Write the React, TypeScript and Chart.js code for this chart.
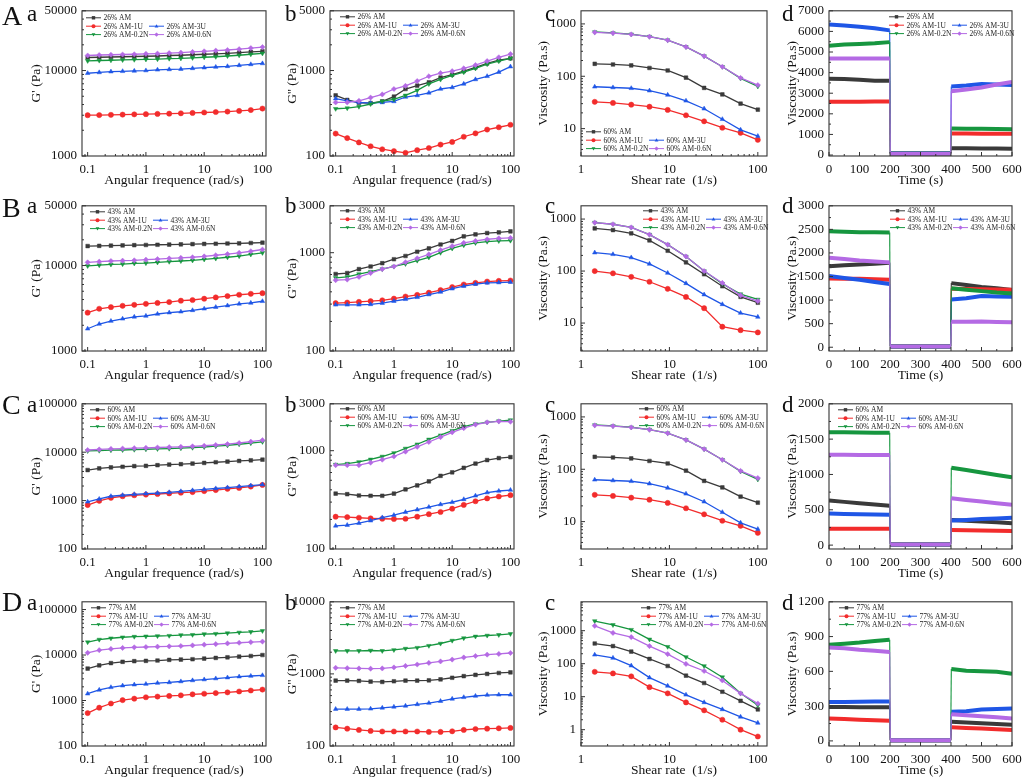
import { Chart, registerables } from 'chart.js';
import { useEffect, useRef } from 'react';

Chart.register(...registerables);

const SERIF = '"Liberation Serif", "DejaVu Serif", serif';

// x values
const freq = [0.1, 0.158, 0.251, 0.398, 0.631, 1, 1.58, 2.51, 3.98, 6.31, 10, 15.8, 25.1, 39.8, 63.1, 100];
const shear = [1.43, 2.3, 3.7, 5.95, 9.56, 15.4, 24.7, 39.7, 63.8, 100];
const time = [0, 50, 100, 150, 199, 201, 250, 300, 350, 399, 401, 450, 500, 550, 600];

const variants = ['AM', 'AM-1U', 'AM-3U', 'AM-0.2N', 'AM-0.6N'];

// tick labels
const freqTicks = [0.1, 1, 10, 100];
const shearTicks = [1, 10, 100];
const timeTicks = [0, 100, 200, 300, 400, 500, 600];
const storageTicksAB = [1000, 10000, 50000];
const storageTicksCD = [100, 1000, 10000, 100000];
const lossTicksA = [100, 1000, 5000];
const lossTicksBC = [100, 1000, 3000];
const lossTicksD = [100, 1000, 10000];
const viscTicksABC = [10, 100, 1000];
const viscTicksD = [1, 10, 100, 1000];
const thixTicksA = [0, 1000, 2000, 3000, 4000, 5000, 6000, 7000];
const thixTicksB = [0, 500, 1000, 1500, 2000, 2500, 3000];
const thixTicksC = [0, 500, 1000, 1500, 2000];
const thixTicksD = [0, 300, 600, 900, 1200];

// G' (Pa) — order: AM, AM-1U, AM-3U, AM-0.2N, AM-0.6N
const storageA = [
  [14200, 14300, 14400, 14500, 14600, 14700, 14800, 15000, 15100, 15300, 15500, 15700, 15900, 16200, 16500, 16800],
  [3000, 3010, 3030, 3050, 3070, 3090, 3110, 3130, 3160, 3190, 3230, 3270, 3310, 3370, 3450, 3590],
  [9300, 9500, 9700, 9800, 9900, 10000, 10200, 10300, 10400, 10600, 10800, 11000, 11200, 11500, 11800, 12100],
  [13000, 13100, 13200, 13300, 13400, 13500, 13600, 13800, 13900, 14100, 14300, 14500, 14800, 15100, 15500, 15900],
  [15000, 15200, 15300, 15400, 15500, 15700, 15800, 16000, 16200, 16500, 16800, 17100, 17400, 17800, 18300, 18800],
];
const storageB = [
  [16900, 17000, 17100, 17200, 17300, 17400, 17500, 17600, 17700, 17800, 17900, 18000, 18100, 18200, 18350, 18500],
  [2810, 3120, 3260, 3380, 3470, 3560, 3650, 3740, 3880, 3950, 4090, 4240, 4390, 4550, 4670, 4750],
  [1820, 2070, 2240, 2380, 2510, 2570, 2710, 2810, 2880, 2990, 3120, 3260, 3400, 3560, 3650, 3820],
  [9900, 10100, 10300, 10400, 10600, 10700, 10900, 11100, 11300, 11500, 11800, 12100, 12500, 12900, 13500, 14100],
  [10900, 11100, 11300, 11400, 11500, 11700, 11900, 12100, 12300, 12500, 12800, 13200, 13600, 14100, 14700, 15400],
];
const storageC = [
  [4280, 4630, 4850, 5000, 5150, 5230, 5390, 5560, 5650, 5830, 6010, 6200, 6400, 6600, 6800, 7010],
  [809, 990, 1140, 1230, 1290, 1330, 1370, 1410, 1460, 1500, 1570, 1650, 1750, 1830, 1950, 2110],
  [944, 1080, 1230, 1290, 1350, 1390, 1430, 1480, 1550, 1620, 1700, 1780, 1860, 1950, 2040, 2140],
  [10600, 10800, 11000, 11100, 11300, 11500, 11700, 11900, 12100, 12400, 12800, 13300, 13900, 14600, 15400, 16400],
  [11100, 11400, 11700, 11900, 12100, 12300, 12500, 12700, 12900, 13200, 13600, 14100, 14700, 15500, 16500, 17700],
];
const storageD = [
  [5040, 5930, 6650, 7100, 7330, 7450, 7570, 7830, 7960, 8090, 8360, 8640, 8920, 9220, 9520, 10000],
  [529, 695, 860, 1020, 1100, 1180, 1220, 1260, 1300, 1370, 1410, 1460, 1510, 1580, 1660, 1740],
  [1410, 1710, 1950, 2120, 2230, 2300, 2420, 2500, 2620, 2760, 2890, 3040, 3190, 3350, 3460, 3580],
  [19200, 21900, 23400, 24600, 25400, 25800, 26200, 26600, 27500, 27900, 28900, 29400, 30300, 31400, 32400, 34000],
  [11200, 12800, 13600, 14300, 14800, 15000, 15300, 15500, 15800, 16300, 16900, 17400, 18000, 18600, 19200, 19800],
];

// G'' (Pa)
const lossA = [
  [512, 453, 420, 416, 435, 495, 608, 667, 728, 827, 895, 983, 1090, 1210, 1320, 1390],
  [183, 162, 144, 130, 120, 114, 109, 117, 124, 136, 146, 168, 184, 204, 217, 232],
  [469, 442, 423, 416, 423, 435, 490, 512, 548, 608, 634, 697, 786, 857, 958, 1110],
  [357, 363, 378, 406, 438, 461, 512, 587, 697, 786, 879, 958, 1060, 1190, 1290, 1390],
  [423, 423, 442, 482, 525, 608, 662, 753, 857, 933, 983, 1060, 1160, 1290, 1430, 1560],
];
const lossB = [
  [607, 621, 681, 724, 782, 858, 926, 1023, 1105, 1212, 1318, 1468, 1537, 1585, 1610, 1647],
  [307, 311, 316, 321, 328, 341, 358, 372, 392, 417, 447, 475, 493, 509, 517, 521],
  [295, 295, 295, 298, 307, 321, 336, 352, 375, 398, 430, 457, 479, 493, 497, 501],
  [554, 567, 607, 641, 681, 724, 770, 832, 898, 1000, 1105, 1193, 1259, 1298, 1318, 1329],
  [525, 533, 567, 621, 681, 724, 800, 878, 962, 1063, 1166, 1259, 1318, 1370, 1402, 1413],
];
const lossC = [
  [366, 361, 350, 348, 348, 366, 404, 443, 488, 555, 603, 670, 739, 803, 841, 860],
  [213, 211, 208, 205, 203, 202, 203, 213, 226, 238, 257, 281, 306, 327, 342, 353],
  [172, 175, 183, 194, 209, 221, 237, 251, 267, 284, 299, 320, 348, 375, 389, 398],
  [723, 739, 768, 816, 873, 948, 1054, 1163, 1303, 1437, 1597, 1762, 1870, 1943, 2003, 2050],
  [712, 712, 712, 756, 810, 873, 978, 1095, 1226, 1373, 1538, 1696, 1842, 1943, 1989, 1973],
];
const lossD = [
  [807, 807, 800, 782, 774, 790, 807, 807, 815, 840, 884, 931, 970, 1000, 1030, 1050],
  [181, 174, 167, 162, 159, 159, 159, 159, 157, 157, 160, 167, 172, 174, 176, 178],
  [325, 325, 325, 328, 338, 349, 360, 378, 394, 419, 450, 474, 494, 509, 514, 514],
  [2090, 2090, 2090, 2110, 2090, 2150, 2245, 2310, 2460, 2640, 2900, 3140, 3310, 3410, 3480, 3590],
  [1215, 1200, 1190, 1180, 1190, 1230, 1290, 1350, 1420, 1490, 1580, 1690, 1770, 1850, 1890, 1950],
];

// Viscosity (Pa.s) vs shear rate
const viscAC = [
  [173, 168, 161, 144, 129, 94, 60, 45, 30, 23],
  [32.5, 31, 28.7, 26.2, 22.8, 18, 13.8, 10.4, 8.3, 6.1],
  [63, 61, 59, 53, 44, 34, 24, 15.1, 9.5, 7.2],
  [700, 672, 635, 572, 490, 364, 243, 152, 91, 64],
  [690, 667, 630, 570, 488, 363, 243, 152, 93, 68],
];
const viscB = [
  [660, 615, 532, 389, 246, 147, 86.7, 51, 31.9, 24.6],
  [100, 90.5, 77.3, 62.3, 45.5, 31.8, 19.3, 8.5, 7.3, 6.6],
  [226, 210, 182, 137, 91.8, 58, 35.2, 22.9, 15.6, 13.1],
  [855, 795, 690, 503, 323, 191, 100, 57, 36, 28.4],
  [855, 795, 690, 503, 323, 191, 100, 59, 34.2, 26.5],
];
const viscD = [
  [408, 341, 233, 139, 85, 43.3, 25.9, 14.1, 7.5, 4.1],
  [56.7, 50.6, 41.3, 19.4, 12.6, 6.7, 3.85, 2.0, 1.0, 0.62],
  [186, 149, 87, 37.7, 21.2, 11.4, 6.7, 4.1, 2.45, 1.6],
  [1960, 1500, 1070, 546, 326, 159, 85, 39, 12.6, 5.5],
  [1400, 855, 639, 341, 195, 98, 60, 31, 12.6, 6.2],
];

// Viscosity (Pa.s) vs time, three-interval test
const thixA = [
  [3700, 3690, 3650, 3610, 3600, 80, 80, 80, 80, 80, 330, 325, 320, 315, 310],
  [2580, 2585, 2590, 2600, 2600, 70, 70, 70, 70, 70, 1040, 1040, 1035, 1030, 1030],
  [6330, 6290, 6230, 6150, 6050, 90, 90, 90, 90, 90, 3330, 3380, 3450, 3420, 3400],
  [5300, 5360, 5390, 5420, 5480, 80, 80, 80, 80, 80, 1290, 1280, 1270, 1260, 1250],
  [4680, 4680, 4680, 4680, 4680, 60, 60, 60, 60, 60, 3100, 3180, 3280, 3420, 3550],
];
const thixB = [
  [1720, 1740, 1755, 1770, 1790, 15, 15, 15, 15, 15, 1360, 1320, 1280, 1250, 1215],
  [1460, 1455, 1450, 1440, 1430, 15, 15, 15, 15, 15, 1240, 1235, 1230, 1225, 1220],
  [1510, 1470, 1430, 1385, 1340, 15, 15, 15, 15, 15, 1010, 1040, 1085, 1075, 1070],
  [2460, 2450, 2440, 2440, 2435, 15, 15, 15, 15, 15, 1250, 1220, 1190, 1160, 1140],
  [1900, 1870, 1840, 1820, 1800, 15, 15, 15, 15, 15, 540, 540, 545, 535, 530],
];
const thixC = [
  [630, 612, 594, 576, 557, 10, 10, 10, 10, 10, 356, 345, 334, 322, 311],
  [233, 233, 232, 232, 232, 10, 10, 10, 10, 10, 215, 211, 207, 204, 201],
  [447, 442, 438, 433, 429, 10, 10, 10, 10, 10, 347, 357, 368, 378, 388],
  [1598, 1596, 1594, 1591, 1589, 10, 10, 10, 10, 10, 1096, 1062, 1028, 993, 959],
  [1279, 1278, 1277, 1276, 1275, 10, 10, 10, 10, 10, 662, 639, 616, 594, 571],
];
const thixD = [
  [293, 292, 291, 291, 290, 5, 5, 5, 5, 5, 165, 159, 152, 146, 140],
  [193, 188, 183, 178, 173, 5, 5, 5, 5, 5, 117, 112, 106, 100, 95],
  [335, 336, 338, 339, 340, 5, 5, 5, 5, 5, 251, 256, 270, 276, 279],
  [830, 838, 848, 862, 873, 5, 5, 5, 5, 5, 620, 605, 600, 597, 580],
  [806, 800, 787, 777, 767, 5, 5, 5, 5, 5, 229, 222, 213, 203, 193],
];

const colors = ['#3a3a3a', '#f22c2c', '#1f56e6', '#16963f', '#b46ae4'];
const markers = ['rect', 'circle', 'triangle', 'triangle', 'rectRot'];
const markerRotation = [0, 0, 0, 180, 0];

// layout (px)
const YW = 60;
const XH = 38;
const PT = 8;
const PR = 16;
const colLeft = [82, 330, 581, 829];
const colWidth = [184, 184, 186, 183];
const rowTop = [6, 201, 399, 597];
const rowHeight = [150, 150, 150, 149];
const yTitleOffset = [46, 38, 38, 37];
const TITLE_SIZE = 13.5;
const TICK_SIZE = 13;

const axisTitles = [
  ['Angular frequence (rad/s)', "G' (Pa)"],
  ['Angular frequence (rad/s)', "G'' (Pa)"],
  ['Shear rate  (1/s)', 'Viscosity (Pa.s)'],
  ['Time (s)', 'Viscosity (Pa.s)'],
];

type Panel = {
  row: number;
  col: number;
  prefix: string;
  x: number[];
  xRange: [number, number];
  xTicks: number[];
  series: number[][];
  yRange: [number, number];
  yTicks: number[];
  legendAt: [number, number];
};

const panels: Panel[] = [
  { row: 0, col: 0, prefix: '26%', x: freq, xRange: [0.08, 115], xTicks: freqTicks, series: storageA, yRange: [1000, 50000], yTicks: storageTicksAB, legendAt: [4, 7] },
  { row: 0, col: 1, prefix: '26%', x: freq, xRange: [0.08, 115], xTicks: freqTicks, series: lossA, yRange: [100, 5000], yTicks: lossTicksA, legendAt: [10, 6] },
  { row: 0, col: 2, prefix: '60%', x: shear, xRange: [1, 127], xTicks: shearTicks, series: viscAC, yRange: [3, 1780], yTicks: viscTicksABC, legendAt: [5, 121] },
  { row: 0, col: 3, prefix: '26%', x: time, xRange: [0, 600], xTicks: timeTicks, series: thixA, yRange: [-47, 7000], yTicks: thixTicksA, legendAt: [60, 6] },

  { row: 1, col: 0, prefix: '43%', x: freq, xRange: [0.08, 115], xTicks: freqTicks, series: storageB, yRange: [1000, 50000], yTicks: storageTicksAB, legendAt: [8, 6] },
  { row: 1, col: 1, prefix: '43%', x: freq, xRange: [0.08, 115], xTicks: freqTicks, series: lossB, yRange: [100, 3000], yTicks: lossTicksBC, legendAt: [10, 5] },
  { row: 1, col: 2, prefix: '43%', x: shear, xRange: [1, 127], xTicks: shearTicks, series: viscB, yRange: [2.9, 1800], yTicks: viscTicksABC, legendAt: [62, 5] },
  { row: 1, col: 3, prefix: '43%', x: time, xRange: [0, 600], xTicks: timeTicks, series: thixB, yRange: [-80, 3000], yTicks: thixTicksB, legendAt: [61, 5] },

  { row: 2, col: 0, prefix: '60%', x: freq, xRange: [0.08, 115], xTicks: freqTicks, series: storageC, yRange: [100, 100000], yTicks: storageTicksCD, legendAt: [8, 6] },
  { row: 2, col: 1, prefix: '60%', x: freq, xRange: [0.08, 115], xTicks: freqTicks, series: lossC, yRange: [100, 3000], yTicks: lossTicksBC, legendAt: [10, 5] },
  { row: 2, col: 2, prefix: '60%', x: shear, xRange: [1, 127], xTicks: shearTicks, series: viscAC, yRange: [3, 1780], yTicks: viscTicksABC, legendAt: [58, 5] },
  { row: 2, col: 3, prefix: '60%', x: time, xRange: [0, 600], xTicks: timeTicks, series: thixC, yRange: [-55, 2000], yTicks: thixTicksC, legendAt: [9, 6] },

  { row: 3, col: 0, prefix: '77%', x: freq, xRange: [0.08, 115], xTicks: freqTicks, series: storageD, yRange: [100, 148000], yTicks: storageTicksCD, legendAt: [9, 6] },
  { row: 3, col: 1, prefix: '77%', x: freq, xRange: [0.08, 115], xTicks: freqTicks, series: lossD, yRange: [100, 10000], yTicks: lossTicksD, legendAt: [10, 6] },
  { row: 3, col: 2, prefix: '77%', x: shear, xRange: [1, 127], xTicks: shearTicks, series: viscD, yRange: [0.32, 7500], yTicks: viscTicksD, legendAt: [60, 6] },
  { row: 3, col: 3, prefix: '77%', x: time, xRange: [0, 600], xTicks: timeTicks, series: thixD, yRange: [-44, 1200], yTicks: thixTicksD, legendAt: [10, 6] },
];

function drawMarker(ctx: CanvasRenderingContext2D, style: string, rot: number, x: number, y: number, r: number) {
  ctx.beginPath();
  if (style === 'rect') {
    const s = r * 0.85;
    ctx.rect(x - s, y - s, 2 * s, 2 * s);
  } else if (style === 'circle') {
    ctx.arc(x, y, r, 0, Math.PI * 2);
  } else if (style === 'triangle') {
    const d = rot ? -1 : 1;
    ctx.moveTo(x, y - d * r);
    ctx.lineTo(x + r * 0.95, y + d * r * 0.65);
    ctx.lineTo(x - r * 0.95, y + d * r * 0.65);
    ctx.closePath();
  } else {
    ctx.moveTo(x, y - r * 1.1);
    ctx.lineTo(x + r * 1.1, y);
    ctx.lineTo(x, y + r * 1.1);
    ctx.lineTo(x - r * 1.1, y);
    ctx.closePath();
  }
  ctx.fill();
}

// minor tick values between the labelled ones
function minorTicks(s: any): number[] {
  const out: number[] = [];
  if (s.type === 'logarithmic') {
    const lo = Math.floor(Math.log10(s.min));
    const hi = Math.ceil(Math.log10(s.max));
    for (let e = lo; e <= hi; e++) {
      for (let k = 2; k <= 9; k++) {
        const v = k * Math.pow(10, e);
        if (v > s.min && v < s.max) out.push(v);
      }
    }
  } else {
    const vals = s.ticks.map((t: any) => t.value);
    const half = (vals[1] - vals[0]) / 2;
    vals.forEach((v: number) => {
      if (v + half < s.max) out.push(v + half);
    });
  }
  return out;
}

// box around the plot with inward ticks on the bottom and left
const framePlugin = {
  id: 'frame',
  afterDraw(chart: any) {
    const { ctx, chartArea: a, scales } = chart;
    const { x, y } = scales;
    ctx.save();
    ctx.strokeStyle = '#333';
    ctx.lineWidth = 1.1;
    ctx.strokeRect(a.left, a.top, a.right - a.left, a.bottom - a.top);
    ctx.lineWidth = 1;
    ctx.beginPath();
    x.ticks.forEach((t: any) => {
      const px = x.getPixelForValue(t.value);
      ctx.moveTo(px, a.bottom);
      ctx.lineTo(px, a.bottom - 4);
    });
    minorTicks(x).forEach((v) => {
      const px = x.getPixelForValue(v);
      ctx.moveTo(px, a.bottom);
      ctx.lineTo(px, a.bottom - 2);
    });
    y.ticks.forEach((t: any) => {
      const py = y.getPixelForValue(t.value);
      ctx.moveTo(a.left, py);
      ctx.lineTo(a.left + 4, py);
    });
    minorTicks(y).forEach((v) => {
      const py = y.getPixelForValue(v);
      ctx.moveTo(a.left, py);
      ctx.lineTo(a.left + 2, py);
    });
    ctx.stroke();
    ctx.restore();
  },
};

// legend slots: first entry alone on the first row, then two columns
const legendSlots = [[0, 0], [0, 1], [1, 1], [0, 2], [1, 2]];

const insetLegend = {
  id: 'insetLegend',
  afterDraw(chart: any, _args: any, opts: any) {
    const { ctx, chartArea } = chart;
    ctx.save();
    ctx.font = `7.5px ${SERIF}`;
    ctx.textBaseline = 'middle';
    chart.data.datasets.forEach((ds: any, i: number) => {
      const [c, r] = legendSlots[i];
      const x = chartArea.left + opts.dx + c * 63;
      const y = chartArea.top + opts.dy + r * 8.4;
      ctx.strokeStyle = ds.borderColor;
      ctx.fillStyle = ds.borderColor;
      ctx.lineWidth = 1;
      ctx.beginPath();
      ctx.moveTo(x, y);
      ctx.lineTo(x + 15, y);
      ctx.stroke();
      drawMarker(ctx, ds.pointStyle, ds.pointRotation, x + 7.5, y, 2);
      ctx.fillStyle = '#222';
      ctx.fillText(ds.label, x + 17.5, y + 0.5);
    });
    ctx.restore();
  },
};

function buildConfig(p: Panel): any {
  const isTime = p.col === 3;
  const [xTitle, yTitle] = axisTitles[p.col];
  const tickFont = { family: SERIF, size: TICK_SIZE };
  const titleFont = { family: SERIF, size: TITLE_SIZE };
  const half = (TITLE_SIZE * 1.2) / 2;
  const datasets = p.series.map((vals, i) => ({
    label: `${p.prefix} ${variants[i]}`,
    data: vals.map((v, j) => ({ x: p.x[j], y: v })),
    borderColor: colors[i],
    backgroundColor: colors[i],
    pointBackgroundColor: colors[i],
    pointBorderColor: colors[i],
    pointBorderWidth: 0.5,
    pointStyle: markers[i],
    pointRotation: markerRotation[i],
    pointRadius: isTime ? 0 : 2.6,
    borderWidth: isTime ? 4 : 1.3,
    segment: isTime
      ? { borderWidth: (c: any) => (c.p1.parsed.x - c.p0.parsed.x < 5 ? 1.1 : 4) }
      : undefined,
    order: 4 - i,
    tension: 0,
  }));
  const grid = { display: false, drawTicks: false, tickLength: 0 };
  return {
    type: 'line',
    data: { datasets },
    options: {
      animation: false,
      responsive: true,
      maintainAspectRatio: false,
      layout: { padding: { top: PT, right: PR, left: 0, bottom: 0 } },
      plugins: {
        legend: { display: false },
        tooltip: { enabled: false },
        insetLegend: { dx: p.legendAt[0], dy: p.legendAt[1] },
      },
      scales: {
        x: {
          type: isTime ? 'linear' : 'logarithmic',
          bounds: 'data',
          min: p.xRange[0],
          max: p.xRange[1],
          afterBuildTicks: (s: any) => {
            s.ticks = p.xTicks.map((value) => ({ value }));
          },
          afterFit: (s: any) => {
            s.height = XH;
          },
          ticks: { font: tickFont, color: '#111', padding: 6, maxRotation: 0, autoSkip: false, callback: (v: number) => String(v) },
          grid,
          border: { display: false },
          title: { display: true, text: xTitle, font: titleFont, color: '#111', padding: { top: 0, bottom: XH - half - 24.5 } },
        },
        y: {
          type: isTime ? 'linear' : 'logarithmic',
          bounds: 'data',
          min: p.yRange[0],
          max: p.yRange[1],
          afterBuildTicks: (s: any) => {
            s.ticks = p.yTicks.map((value) => ({ value }));
          },
          afterFit: (s: any) => {
            s.width = YW;
          },
          ticks: { font: tickFont, color: '#111', padding: 5, autoSkip: false, callback: (v: number) => String(v) },
          grid,
          border: { display: false },
          title: { display: true, text: yTitle, font: titleFont, color: '#111', padding: { top: YW - yTitleOffset[p.col] - half, bottom: 0 } },
        },
      },
    },
    plugins: [framePlugin, insetLegend],
  };
}

function PanelChart({ panel }: { panel: Panel }) {
  const canvasRef = useRef<HTMLCanvasElement>(null);

  useEffect(() => {
    if (!canvasRef.current) {
      return;
    }
    const chart = new Chart(canvasRef.current, buildConfig(panel));
    return () => {
      chart.destroy();
    };
  }, [panel]);

  const left = colLeft[panel.col] - YW;
  const top = rowTop[panel.row] - PT;
  const width = YW + colWidth[panel.col] + PR;
  const height = PT + rowHeight[panel.row] + XH;

  return (
    <div style={{ position: 'absolute', left, top, width, height }}>
      <canvas ref={canvasRef} />
    </div>
  );
}

const rowLetters = ['A', 'B', 'C', 'D'];
const panelLetters = ['a', 'b', 'c', 'd'];
const rowLetterBase = [25, 217, 414, 611];
const panelLetterBase = [21, 213, 412, 610];
const panelLetterLeft = [27, 285, 545, 782];

function Letter({ text, left, base, size }: { text: string; left: number; base: number; size: number }) {
  return (
    <div
      style={{
        position: 'absolute',
        left,
        top: base - size * 0.8375,
        fontFamily: SERIF,
        fontSize: size,
        lineHeight: `${size}px`,
        color: '#111',
        whiteSpace: 'nowrap',
      }}
    >
      {text}
    </div>
  );
}

export default function App() {
  return (
    <div style={{ position: 'absolute', left: 0, top: 0, width: 1024, height: 779, background: '#fff', overflow: 'hidden' }}>
      {panels.map((p) => (
        <PanelChart key={`${p.row}-${p.col}`} panel={p} />
      ))}
      {rowLetters.map((t, r) => (
        <Letter key={t} text={t} left={2} base={rowLetterBase[r]} size={28} />
      ))}
      {rowLetters.map((_, r) =>
        panelLetters.map((t, c) => (
          <Letter key={`${r}${t}`} text={t} left={panelLetterLeft[c]} base={panelLetterBase[r]} size={23} />
        )),
      )}
    </div>
  );
}
